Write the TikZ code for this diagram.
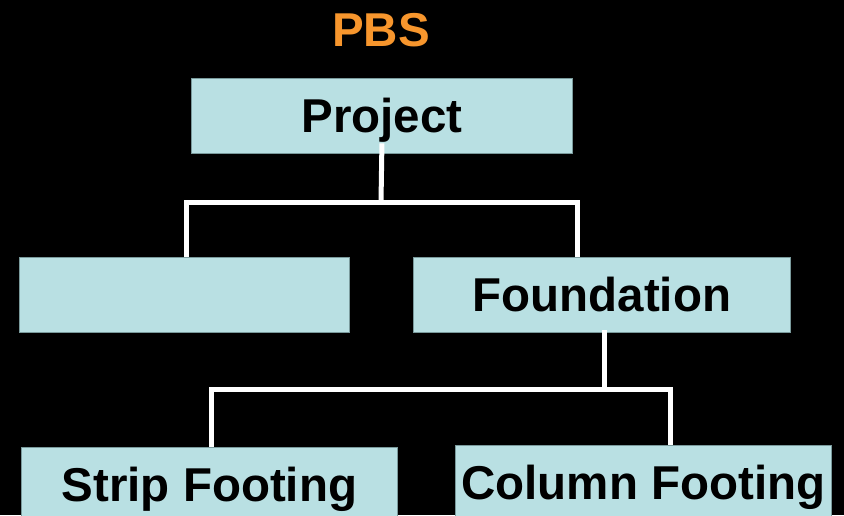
\documentclass[tikz,border=0pt]{standalone}
\usepackage{fontspec}
\setmainfont{Liberation Sans}
\usetikzlibrary{calc}
\definecolor{boxfill}{HTML}{B9E0E3}
\definecolor{boxline}{HTML}{7A9A9C}
\definecolor{pbsorange}{HTML}{F7962D}
\begin{document}
\begin{tikzpicture}[x=1pt,y=-1pt,
  pbox/.style={draw=boxline,line width=0.8pt,fill=boxfill,rectangle,inner sep=0pt,
    minimum height=75pt,text height=34pt,text depth=0pt,
    font=\fontsize{47.5}{52}\selectfont\bfseries,text=black},
  conn/.style={draw=white,line width=5pt,line cap=rect,line join=miter}]
\fill[black] (0,0) rectangle (844,515);
\useasboundingbox (0,0) rectangle (844,515);
\begin{scope}
\clip (0,0) rectangle (844,515);
\node[font=\fontsize{47.5}{52}\selectfont\bfseries,text=pbsorange,inner sep=0pt,text height=34pt,text depth=0pt] (title) at (381,29) {PBS};
\node[pbox,minimum width=381pt,anchor=north west] (proj) at (191,78) {Project};
\node[pbox,minimum width=330pt,anchor=north west] (left) at (19,257) {};
\node[pbox,minimum width=377pt,anchor=north west] (found) at (413,257) {Foundation};
\node[pbox,minimum width=376pt,anchor=north west] (strip) at (21,447) {Strip Footing};
\node[pbox,minimum width=376pt,anchor=north west] (col) at (455,445) {Column Footing};
\coordinate (j1) at (381,202);
\coordinate (j2) at (604,389);
\draw[conn] ($(proj.south)+(0,-8)$) -- (j1);
\draw[conn,line cap=butt] (left.north -| 186,0) |- (j1) -| (found.north -| 577,0);
\draw[conn] (found.south -| j2) -- (j2);
\draw[conn,line cap=butt] (strip.north -| 211,0) |- (j2) -| (col.north -| 670,0);
\end{scope}
\end{tikzpicture}
\end{document}
